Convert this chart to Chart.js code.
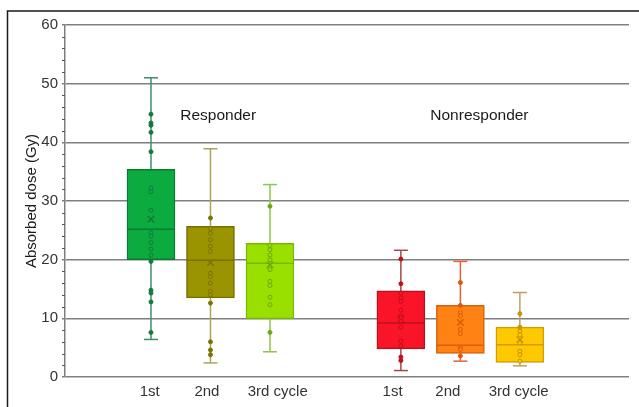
<!DOCTYPE html>
<html>
<head>
<meta charset="utf-8">
<script src="https://cdn.jsdelivr.net/npm/chart.js@4"></script>
<style>
  body { margin: 0; background: #fff; }
  #wrap { width: 639px; height: 407px; }
</style>
</head>
<body>
<div id="wrap"><canvas id="doseChart" width="639" height="407"></canvas></div>
<script>
// datos (Gy)
const groups = ['Responder', 'Nonresponder'];
const cycles = ['1st', '2nd', '3rd cycle'];
const yTicks = [0, 10, 20, 30, 40, 50, 60];

// orden de las cajas: R 1st, R 2nd, R 3rd, N 1st, N 2nd, N 3rd
const whiskerMin = [6.4, 2.4, 4.3, 1.1, 2.7, 1.9];
const q1 = [20.0, 13.5, 9.9, 4.8, 4.0, 2.5];
const median = [25.2, 19.9, 19.4, 9.2, 5.4, 5.5];
const q3 = [35.4, 25.7, 22.8, 14.7, 12.2, 8.5];
const whiskerMax = [51.0, 38.9, 32.8, 21.6, 19.7, 14.4];
const mean = [26.9, 19.5, 19.1, 9.8, 9.3, 6.4];

const respFirst = [44.8, 43.3, 42.9, 41.7, 38.4, 32.2, 31.6, 28.4, 24.6, 24.0, 22.9, 21.8, 20.8, 19.7, 14.8, 14.3, 12.8, 7.6];
const respSecond = [27.1, 25.3, 24.5, 23.4, 22.3, 21.4, 17.7, 17.1, 16.0, 14.6, 14.0, 12.6, 6.0, 4.6, 3.8];
const respThird = [29.1, 22.4, 21.7, 20.8, 20.0, 18.3, 16.3, 15.6, 13.6, 12.3, 7.6];
const nonFirst = [20.1, 15.9, 14.3, 13.5, 12.9, 11.4, 10.4, 10.1, 9.5, 8.5, 6.1, 5.3, 3.4, 2.8];
const nonSecond = [16.1, 12.2, 11.0, 10.4, 8.1, 7.4, 5.0, 4.7, 3.6];
const nonThird = [10.8, 8.5, 7.8, 7.2, 5.8, 4.4, 3.8, 2.7];
const points = [respFirst, respSecond, respThird, nonFirst, nonSecond, nonThird];

// posiciones / estilos
const boxPos = [0, 1, 2, 4.2, 5.2, 6.2];
const tickPos = [-0.02, 0.94, 2.13, 4.06, 4.99, 6.18];
const groupLabelPos = [{x: 1.13, y: 44.5}, {x: 5.52, y: 44.5}];
const fillCol = ['#0bab3f', '#9a9400', '#99e000', '#fa1428', '#ff8214', '#ffc800'];
const edgeCol = ['#0b7a35', '#767100', '#7ab800', '#b8101c', '#d8600c', '#d09e00'];
const whiskCol = ['#3a8f68', '#a8a45a', '#8cc84a', '#a0484a', '#e8603a', '#bf9f60'];
const dotCol = ['#127a3c', '#7a7500', '#6ea810', '#c00e1c', '#dc5a08', '#c89400'];

const tickLabels = groups.flatMap(() => cycles);
const FONT = '"Liberation Sans", Arial, sans-serif';

const datasets = [];

// cajas
datasets.push({
    type: 'bar',
    data: boxPos.map((x, i) => ({x: x, y: [q1[i], q3[i]]})),
    backgroundColor: fillCol,
    borderColor: edgeCol,
    borderWidth: 1.5,
    borderSkipped: false,
    barThickness: 48,
    order: 5
});

// bigotes
boxPos.forEach((x, i) => {
    datasets.push({
        type: 'line',
        data: [{x: x, y: whiskerMin[i]}, {x: x, y: whiskerMax[i]}],
        borderColor: whiskCol[i],
        borderWidth: 1.5,
        pointRadius: 0,
        order: 6
    });
});

// topes de los bigotes
datasets.push({
    type: 'scatter',
    data: boxPos.flatMap((x, i) => [{x: x, y: whiskerMin[i]}, {x: x, y: whiskerMax[i]}]),
    pointStyle: 'line',
    pointRadius: 7,
    pointBorderWidth: 1.5,
    pointBorderColor: ctx => whiskCol[Math.floor(ctx.dataIndex / 2)],
    order: 4
});

// medianas
datasets.push({
    type: 'scatter',
    data: boxPos.map((x, i) => ({x: x, y: median[i]})),
    pointStyle: 'line',
    pointRadius: 23.5,
    pointBorderWidth: 1.5,
    pointBorderColor: edgeCol,
    order: 3
});

// medias
datasets.push({
    type: 'scatter',
    data: boxPos.map((x, i) => ({x: x, y: mean[i]})),
    pointStyle: 'crossRot',
    pointRadius: 4.5,
    pointBorderWidth: 1.5,
    pointBorderColor: dotCol,
    order: 2
});

// puntos individuales
points.forEach((vals, i) => {
    datasets.push({
        type: 'scatter',
        data: vals.map(v => ({x: boxPos[i], y: v})),
        pointRadius: 2,
        pointBorderWidth: 1,
        pointBorderColor: dotCol[i],
        pointBackgroundColor: ctx => {
            const v = vals[ctx.dataIndex];
            return (v > q1[i] && v < q3[i]) ? fillCol[i] : dotCol[i];
        },
        order: 1
    });
});

const extras = {
    id: 'extras',
    beforeDraw(chart) {
        const c = chart.ctx;
        c.save();
        c.fillStyle = '#fff';
        c.fillRect(0, 0, chart.width, chart.height);
        c.strokeStyle = '#1a1a1a';
        c.lineWidth = 1.5;
        c.beginPath();
        c.moveTo(7.5, chart.height);
        c.lineTo(7.5, 11);
        c.lineTo(chart.width, 11);
        c.stroke();
        c.restore();
    },
    afterDraw(chart) {
        const c = chart.ctx;
        const xs = chart.scales.x, ys = chart.scales.y;
        c.save();
        // marcas menores del eje y
        c.strokeStyle = '#555';
        c.lineWidth = 1;
        for (let v = 2; v < 60; v += 2) {
            if (v % 10 === 0) continue;
            const py = Math.round(ys.getPixelForValue(v)) + 0.5;
            c.beginPath();
            c.moveTo(xs.left - 3, py);
            c.lineTo(xs.left, py);
            c.stroke();
        }
        // etiquetas del eje x
        c.textAlign = 'center';
        c.textBaseline = 'middle';
        c.font = '15px ' + FONT;
        c.fillStyle = '#333';
        tickPos.forEach((p, i) => {
            c.fillText(tickLabels[i], xs.getPixelForValue(p), ys.bottom + 15);
        });
        // etiquetas de grupo
        c.fillStyle = '#1a1a1a';
        c.font = '15.5px ' + FONT;
        groups.forEach((g, i) => {
            c.fillText(g, xs.getPixelForValue(groupLabelPos[i].x), ys.getPixelForValue(groupLabelPos[i].y));
        });
        c.restore();
    }
};

new Chart(document.getElementById('doseChart'), {
    type: 'bar',
    data: { datasets: datasets },
    options: {
        responsive: false,
        animation: false,
        layout: { autoPadding: false, padding: { top: 25, right: 10, left: 0, bottom: 0 } },
        plugins: { legend: { display: false }, tooltip: { enabled: false } },
        scales: {
            x: {
                type: 'linear',
                min: -1.445,
                max: 8.034,
                offset: false,
                grid: { display: false, drawTicks: false },
                border: { display: false },
                ticks: { display: false },
                afterFit: scale => { scale.height = 30; }
            },
            y: {
                min: 0,
                max: 60,
                afterBuildTicks: scale => { scale.ticks = yTicks.map(v => ({value: v})); },
                afterFit: scale => { scale.width = 65; },
                grid: { color: '#7f7f7f', lineWidth: 1.5, tickLength: 3 },
                border: { display: true, color: '#7f7f7f', width: 1.5 },
                ticks: {
                    padding: 4,
                    color: '#333',
                    font: { family: FONT, size: 15 }
                },
                title: {
                    display: true,
                    text: 'Absorbed dose (Gy)',
                    color: '#1a1a1a',
                    padding: { top: 23, bottom: 0 },
                    font: { family: FONT, size: 15 }
                }
            }
        }
    },
    plugins: [extras]
});
</script>
</body>
</html>
